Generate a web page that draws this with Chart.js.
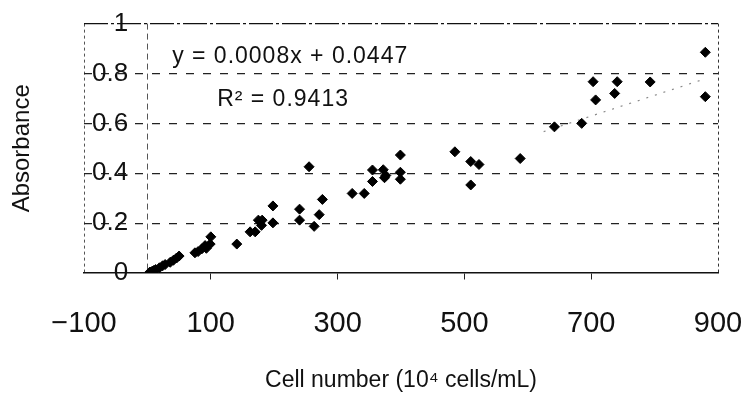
<!DOCTYPE html>
<html>
<head>
<meta charset="utf-8">
<title>Absorbance vs cell number</title>
<script src="https://cdn.jsdelivr.net/npm/chart.js@4/dist/chart.umd.min.js"></script>
<style>
  html, body { margin: 0; padding: 0; background: #fff; }
  #wrap { width: 748px; height: 396px; }
</style>
</head>
<body>
<div id="wrap"><canvas id="chart"></canvas></div>
<script>
/* --------------------------------------------------------------------------
   1. DATA
   -------------------------------------------------------------------------- */

// cell number, 10^4 cells/mL
const cellNumber = [4, 8, 10, 13, 19, 24, 28, 36, 41, 46, 50,
                    75, 80, 86, 91, 93, 99, 100, 141, 162, 170, 175, 180, 181,
                    198, 198, 240, 240, 255, 263, 271, 276, 323, 342, 355, 355,
                    372, 374, 376, 399, 399, 399, 485, 510, 510, 523, 588,
                    642, 685, 703, 707, 737, 741, 793, 880, 880];

// absorbance for each point above
const absorbance = [0.004, 0.008, 0.010, 0.014, 0.021, 0.029, 0.034, 0.043, 0.051, 0.060, 0.068,
                    0.081, 0.086, 0.097, 0.110, 0.099, 0.116, 0.145, 0.116, 0.165, 0.165, 0.212, 0.191, 0.212,
                    0.201, 0.269, 0.256, 0.212, 0.426, 0.187, 0.234, 0.295, 0.319, 0.319, 0.413, 0.367,
                    0.414, 0.382, 0.391, 0.473, 0.404, 0.376, 0.486, 0.447, 0.353, 0.435, 0.459,
                    0.586, 0.600, 0.767, 0.694, 0.720, 0.767, 0.766, 0.885, 0.707];

// linear trendline: only the upper part is still visible in the scan
const trendX = [625, 880];
const trendY = [0.567, 0.779];

// axis ticks (0 only carries the old y-axis line, no label)
const xTicks = [-100, 0, 100, 300, 500, 700, 900];
const yTicks = [0, 0.2, 0.4, 0.6, 0.8, 1];

const equationText = 'y = 0.0008x + 0.0447';
const r2Text = 'R\u00B2 = 0.9413';

const FONT = 'Liberation Sans, Arial, Helvetica, sans-serif';

/* --------------------------------------------------------------------------
   2. small plugin for the regression text
   -------------------------------------------------------------------------- */
const equationLabel = {
  id: 'equationLabel',
  afterDatasetsDraw(chart) {
    const { ctx, scales: { x, y } } = chart;
    ctx.save();
    ctx.fillStyle = '#111';
    ctx.font = '23px ' + FONT;
    ctx.textAlign = 'left';
    ctx.textBaseline = 'middle';
    if ('letterSpacing' in ctx) ctx.letterSpacing = '1px';
    ctx.fillText(equationText, x.getPixelForValue(39), y.getPixelForValue(0.867));
    ctx.fillText(r2Text, x.getPixelForValue(110), y.getPixelForValue(0.694));
    ctx.restore();
  },
};

/* --------------------------------------------------------------------------
   3. CHART
   -------------------------------------------------------------------------- */
const points = cellNumber.map((v, i) => ({ x: v, y: absorbance[i] }));
const trend = trendX.map((v, i) => ({ x: v, y: trendY[i] }));

new Chart(document.getElementById('chart'), {
  type: 'scatter',
  data: {
    datasets: [
      {
        data: points,
        pointStyle: 'rectRot',
        pointRadius: 5,
        pointHoverRadius: 5,
        backgroundColor: '#000',
        borderColor: '#000',
        borderWidth: 1,
      },
      {
        type: 'line',
        data: trend,
        showLine: true,
        borderColor: '#8a8a8a',
        borderWidth: 1.2,
        borderDash: [2, 7],
        pointRadius: 0,
        fill: false,
      },
    ],
  },
  options: {
    responsive: true,
    maintainAspectRatio: false,
    animation: false,
    layout: { padding: { left: 4, right: 30, top: 18, bottom: 0 } },
    plugins: { legend: { display: false }, tooltip: { enabled: false } },
    scales: {
      x: {
        type: 'linear',
        min: -100,
        max: 900,
        afterBuildTicks: (scale) => { scale.ticks = xTicks.map((v) => ({ value: v })); },
        ticks: {
          autoSkip: false,
          maxRotation: 0,
          padding: 4,
          color: '#111',
          font: { family: FONT, size: 29 },
          callback: (v) => (v === 0 ? '' : String(v).replace('-', '\u2212')),
        },
        grid: {
          drawTicks: true,
          tickLength: 30,
          tickBorderDash: [6, 60],
          tickWidth: 1,
          tickColor: (c) => (c.tick && c.tick.value > 0 && c.tick.value < 900 ? '#222' : 'rgba(0,0,0,0)'),
          lineWidth: 1,
          color: (c) => {
            const v = c.tick ? c.tick.value : null;
            if (v === -100) return '#555';
            if (v === 0) return '#555';
            if (v === 900) return '#333';
            return 'rgba(0,0,0,0)';
          },
        },
        border: {
          display: true,
          color: '#111',
          width: 1.5,
          dash: (c) => (c.tick && c.tick.value === 0 ? [6, 4] : [3, 3]),
        },
        title: {
          display: true,
          text: 'Cell number (10\u2074 cells/mL)',
          color: '#111',
          font: { family: FONT, size: 23 },
          padding: { top: 20.6, bottom: 2 },
        },
      },
      y: {
        type: 'linear',
        min: 0,
        max: 1,
        afterBuildTicks: (scale) => { scale.ticks = yTicks.map((v) => ({ value: v })); },
        ticks: {
          mirror: true,
          crossAlign: 'far',
          padding: 8,
          color: '#111',
          font: { family: FONT, size: 26 },
          callback: (v) => String(v),
        },
        grid: {
          drawTicks: false,
          lineWidth: 1.2,
          color: (c) => {
            const v = c.tick ? c.tick.value : null;
            if (v === 0) return 'rgba(0,0,0,0)';
            if (v === 1) return '#111';
            return '#222';
          },
        },
        border: {
          display: false,
          dash: (c) => (c.tick && c.tick.value === 1 ? [24, 3, 3, 3] : [8, 9]),
        },
        title: {
          display: true,
          text: 'Absorbance',
          color: '#111',
          font: { family: FONT, size: 24 },
          padding: { top: 4, bottom: 31.2 },
        },
      },
    },
  },
  plugins: [equationLabel],
});
</script>
</body>
</html>
